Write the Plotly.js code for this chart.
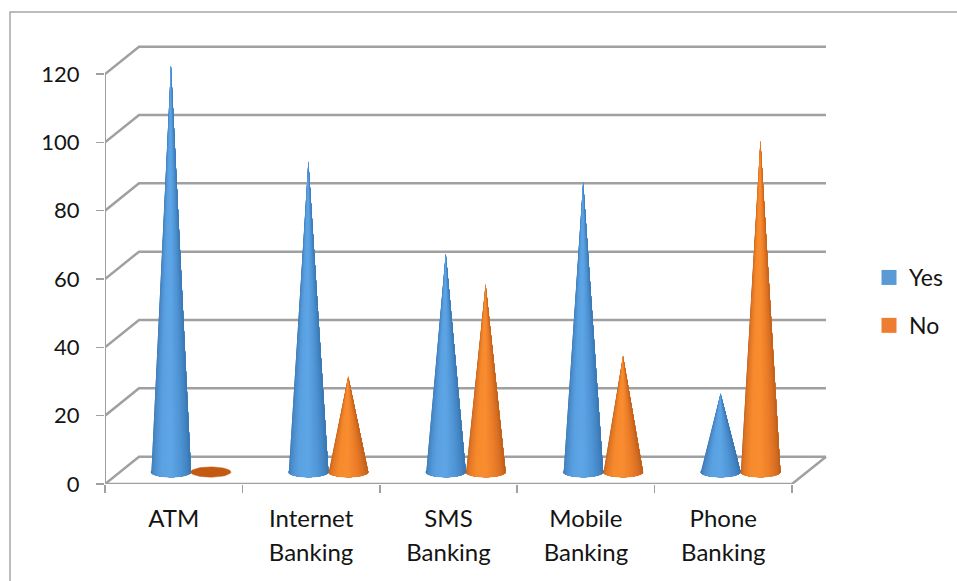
<!DOCTYPE html>
<html>
<head>
<meta charset="utf-8">
<script src="https://cdn.plot.ly/plotly-3.0.0.min.js"></script>
<style>html,body{margin:0;padding:0;background:#fff}#chart{width:957px;height:581px}</style>
</head>
<body>
<div id="chart"></div>
<script>
const categories = ['ATM', 'Internet<br>Banking', 'SMS<br>Banking', 'Mobile<br>Banking', 'Phone<br>Banking'];
const yesValues = [119, 91, 64, 85, 23];
const noValues = [0, 28, 55, 34, 97];
const valueTicks = [0, 20, 40, 60, 80, 100, 120];

const seriesNames = ['Yes', 'No'];
const legendColors = ['#5b9bd5', '#ed7d31'];
const shadeStops = [
  ['#3a76b0', '#4a8ac8', '#5aa1e2', '#5ea5e6', '#4f94d4', '#4080be', '#356ea6'],
  ['#b45c1c', '#dd7426', '#f78a2c', '#f88d30', '#ea7b28', '#cf6a20', '#ad5618']
];
const discColors = ['#3a76b0', '#c25a12'];

// Pseudo-3D projection: the back wall sits up and to the right of the front plane.
const depthX = 34 / 137.4;
const depthY = 8;
const lineGray = '#a0a0a0';

// Cone geometry in axis units.
const baseY = 3.5;
const halfWidth = 0.146;
const halfHeight = 1.5;
const offsets = [0.48, 0.77];
const bands = 28;

function hexToRgb(h) { return [1, 3, 5].map(i => parseInt(h.substr(i, 2), 16)); }
function shade(stops, t) {
  const p = t * (stops.length - 1), i = Math.min(Math.floor(p), stops.length - 2), f = p - i;
  const a = hexToRgb(stops[i]), b = hexToRgb(stops[i + 1]);
  return 'rgb(' + a.map((c, k) => Math.round(c + (b[k] - c) * f)).join(',') + ')';
}

const traces = [];
function wire(x, y, width) {
  traces.push({ x, y, mode: 'lines', line: { color: lineGray, width }, showlegend: false, hoverinfo: 'skip', cliponaxis: false });
}

// Wall gridlines with their slanted connectors back to the front plane.
valueTicks.forEach(v => {
  wire([0, depthX, 5 + depthX], [v, v + depthY, v + depthY], 2.5);
});
wire([0, 0], [0, 120], 2);
wire([0, 5, 5 + depthX], [0, 0, depthY], 2.5);

// Each cone is a stack of overlapping fans from the apex to a shrinking base arc,
// painted left to right so neighbouring shades blend without seams.
[yesValues, noValues].forEach((vals, s) => {
  const discX = [], discY = [];
  vals.forEach((v, i) => {
    const cx = i + offsets[s];
    for (let a = 0; a <= 48; a++) {
      const th = a / 48 * 2 * Math.PI;
      discX.push(cx + halfWidth * Math.cos(th));
      discY.push(baseY + halfHeight * Math.sin(th));
    }
    discX.push(null); discY.push(null);
  });
  traces.push({ x: discX, y: discY, mode: 'lines', fill: 'toself', fillcolor: discColors[s],
    line: { color: discColors[s], width: 0.5 }, showlegend: false, hoverinfo: 'skip', cliponaxis: false });

  for (let b = 0; b < bands; b++) {
    const xs = [], ys = [];
    vals.forEach((v, i) => {
      if (v === 0) return;
      const cx = i + offsets[s];
      xs.push(cx); ys.push(baseY + v);
      for (let k = b; k <= bands; k++) {
        const t = Math.PI * (1 + k / bands);
        xs.push(cx + halfWidth * Math.cos(t));
        ys.push(baseY + halfHeight * Math.sin(t));
      }
      xs.push(cx, null); ys.push(baseY + v, null);
    });
    const col = shade(shadeStops[s], (b + 0.5) / bands);
    traces.push({ x: xs, y: ys, mode: 'lines', fill: 'toself', fillcolor: col,
      line: { color: col, width: 0 }, showlegend: false, hoverinfo: 'skip', cliponaxis: false });
  }
});

// Legend entries.
seriesNames.forEach((name, s) => {
  traces.push({ x: [null], y: [null], name, mode: 'markers', legendgroup: name,
    marker: { symbol: 'square', size: 15, color: legendColors[s] } });
});

const textColor = '#141414';
const fontFamily = 'Lato, "Open Sans", sans-serif';
const pxW = 722, pxH = 444;

// Category labels are sized by span so the axis font can set a wider line pitch.
const categoryText = categories.map(c =>
  c.split('<br>').map(line => '<span style="font-size:24px">' + line + '</span>').join('<br>'));

const layout = {
  width: 957, height: 581,
  margin: { l: 105, r: 130, t: 40, b: 97, pad: 0 },
  paper_bgcolor: '#fff', plot_bgcolor: '#fff',
  font: { family: fontFamily, size: 22, color: textColor },
  showlegend: true,
  legend: {
    xref: 'container', yref: 'container', x: 869 / 957, y: 1 - 256 / 581, xanchor: 'left', yanchor: 'top',
    font: { family: fontFamily, size: 23, color: textColor }, tracegroupgap: 15, traceorder: 'grouped',
    bgcolor: 'rgba(0,0,0,0)', itemwidth: 30
  },
  xaxis: {
    range: [0, pxW / 137.4], showgrid: false, zeroline: false, showline: false,
    tickmode: 'array', tickvals: categories.map((_, i) => i + 0.5), ticktext: categoryText,
    ticks: '', tickfont: { family: fontFamily, size: 26, color: textColor }, ticklabelstandoff: 16,
    minor: { tickmode: 'array', tickvals: [0, 1, 2, 3, 4, 5], ticks: 'outside', ticklen: 8, tickwidth: 1.5, tickcolor: lineGray, showgrid: false }
  },
  yaxis: {
    range: [0, pxH / (410 / 120)], showgrid: false, zeroline: false, showline: false,
    tickmode: 'array', tickvals: valueTicks, ticks: 'outside', ticklen: 8, tickwidth: 1.5, tickcolor: lineGray,
    tickfont: { family: fontFamily, size: 22, color: textColor }, ticklabelstandoff: 12
  },
  shapes: [{
    type: 'rect', xref: 'paper', yref: 'paper',
    x0: (10 - 105) / pxW, x1: (1000 - 105) / pxW,
    y0: (484 - 700) / pxH, y1: (484 - 12) / pxH,
    line: { color: '#a6a6a6', width: 1.5 }, fillcolor: 'rgba(0,0,0,0)', layer: 'below'
  }]
};

Plotly.newPlot('chart', traces, layout, { displayModeBar: false, staticPlot: true });
</script>
</body>
</html>
